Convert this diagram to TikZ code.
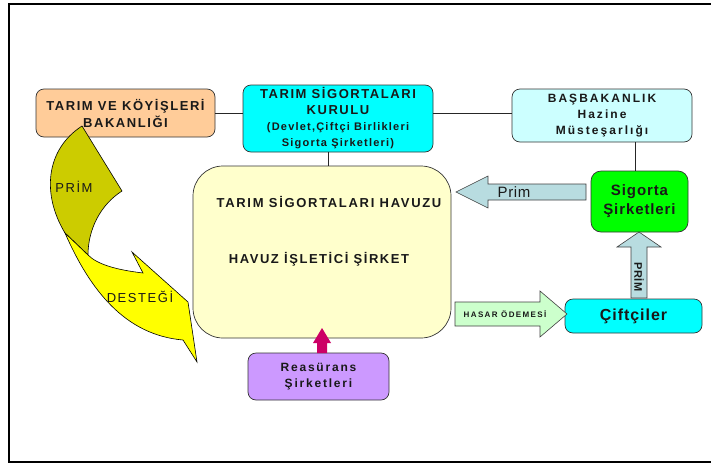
\documentclass[tikz,border=0pt]{standalone}
\usepackage{fontspec}
\setmainfont{Liberation Sans}
\newcommand{\lsp}[1]{\addfontfeature{LetterSpace=#1}}
\definecolor{bakc}{HTML}{FFCC99}
\definecolor{cyanc}{HTML}{00FFFF}
\definecolor{basc}{HTML}{CCFFFF}
\definecolor{sigc}{HTML}{00FF00}
\definecolor{poolc}{HTML}{FFFFCC}
\definecolor{reac}{HTML}{CC99FF}
\definecolor{primc}{HTML}{B8DCE0}
\definecolor{hasc}{HTML}{CCFFCC}
\definecolor{crim}{HTML}{CC0066}
\definecolor{olivec}{HTML}{CCCC00}
\definecolor{yelc}{HTML}{FFFF00}
\begin{document}
\begin{tikzpicture}[x=1pt,y=-1pt,
  box/.style={draw=black!80, line width=0.7pt, rounded corners=8pt, inner sep=0pt, align=center, text=black!90},
  conn/.style={draw=black!85, line width=0.7pt},
  blk/.style={draw=black!75, line width=0.6pt, line join=miter},
  lbl/.style={inner sep=0pt, text=black!90},
]
\clip (0,0) rectangle (711,466);
\fill[white] (0,0) rectangle (711,466);
\draw[line width=2pt] (9,4) rectangle (740,462);

% boxes
\node[box, fill=bakc, minimum width=179, minimum height=48,
  font=\fontsize{13}{17}\selectfont\bfseries\lsp{12}] (bak) at (125.5,113) {TARIM VE KÖYİŞLERİ\\BAKANLIĞI};
\node[box, fill=cyanc, minimum width=190, minimum height=67,
  font=\fontsize{13}{16}\selectfont\bfseries\lsp{12}] (kur) at (338,118.5)
  {TARIM SİGORTALARI\\KURULU\\{\fontsize{11}{14}\selectfont\lsp{11}(Devlet,Çiftçi Birlikleri}\\{\fontsize{11}{14}\selectfont\lsp{11}Sigorta Şirketleri)}};
\node[box, fill=basc, minimum width=180, minimum height=53,
  font=\fontsize{12}{16}\selectfont\bfseries\lsp{17}] (bas) at (602,115.5) {BAŞBAKANLIK\\Hazine\\Müsteşarlığı};
\node[box, fill=sigc, rounded corners=10pt, minimum width=97, minimum height=61,
  font=\fontsize{15}{19}\selectfont\bfseries\lsp{6}] (sig) at (639.5,201.5) {Sigorta\\Şirketleri};
\node[box, fill=cyanc, minimum width=137, minimum height=34,
  font=\fontsize{16}{19}\selectfont\bfseries\lsp{6}] (cif) at (633.5,316) {Çiftçiler};
\node[box, fill=poolc, rounded corners=30pt, minimum width=258, minimum height=172] (pool) at (322,252) {};
\node[box, fill=reac, minimum width=141, minimum height=47,
  font=\fontsize{12}{16}\selectfont\bfseries\lsp{15}] (rea) at (318.5,376.5) {Reasürans\\Şirketleri};

% connectors
\draw[conn] (bak.east) -- (bak.east -| kur.west);
\draw[conn] (kur.east |- bak.east) -- (bas.west |- bak.east);
\coordinate (kp) at ([xshift=-10]kur.south);
\draw[conn] (kp) -- (kp |- pool.north);
\coordinate (bp) at ([xshift=-4.5]sig.north);
\draw[conn] (bp) -- (bp |- bas.south);

% Prim block arrow (left)
\draw[blk, fill=primc] (456,192) -- (488,176) -- (488,184) -- (586,184) -- (586,200) -- (488,200) -- (488,208) -- cycle;
\node[lbl, font=\fontsize{15}{18}\selectfont\lsp{4}] (primtxt) at (514,192) {Prim};

% PRIM up arrow
\draw[blk, fill=primc] (639,232) -- (661,247) -- (647,247) -- (647,298) -- (631,298) -- (631,247) -- (617,247) -- cycle;
\node[lbl, rotate=-90, font=\fontsize{11}{13}\selectfont\bfseries\lsp{3}] (primup) at (639,277) {PRİM};

% HASAR arrow (right)
\draw[blk, fill=hasc] (455,302) -- (540,302) -- (540,291) -- (567,314) -- (540,337) -- (540,326) -- (455,326) -- cycle;
\node[lbl, font=\fontsize{8}{10}\selectfont\bfseries\lsp{17}] (hasar) at (505,314) {HASAR ÖDEMESİ};

% crimson arrow
\fill[crim] (322,328) -- (331,343) -- (327,343) -- (327,353) -- (317,353) -- (317,343) -- (313,343) -- cycle;

% curved arrows
\draw[line width=0.6pt, fill=olivec, line join=miter]
  (82,126) -- (122,191) .. controls (100,205) and (88,230) .. (88,255)
  -- (65,233) .. controls (42,195) and (45,150) .. (82,126) -- cycle;
\draw[line width=0.6pt, fill=yelc, line join=miter]
  (65,233) .. controls (90,290) and (125,335) .. (183,340)
  -- (197,362) -- (188,302) -- (132,252) -- (143,273)
  .. controls (118,270) and (98,265) .. (88,255) -- cycle;
\node[lbl, font=\fontsize{13}{15}\selectfont\lsp{12}] (primc) at (74,187) {PRİM};
\node[lbl, font=\fontsize{13}{15}\selectfont\lsp{12}] (destek) at (140,297) {DESTEĞİ};

% pool texts
\node[lbl, font=\fontsize{13}{16}\selectfont\bfseries\lsp{13}] (t1) at (329,202) {TARIM SİGORTALARI HAVUZU};
\node[lbl, font=\fontsize{13}{16}\selectfont\bfseries\lsp{12}] (t2) at (319,259) {HAVUZ İŞLETİCİ ŞİRKET};
\end{tikzpicture}
\end{document}
